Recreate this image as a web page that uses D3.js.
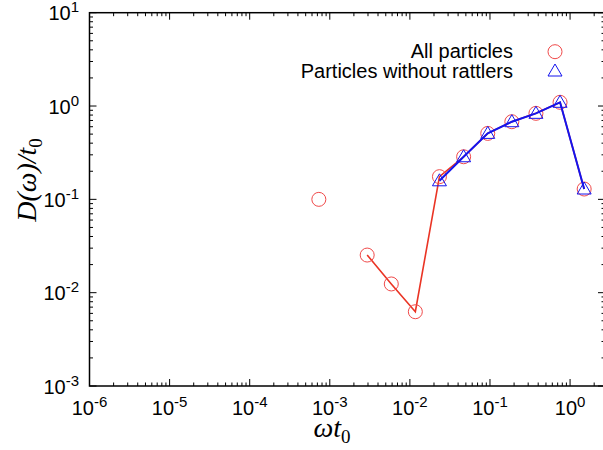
<!DOCTYPE html>
<html>
<head>
<style>
body { margin: 0; background: #fff; }
text { font-family: "Liberation Sans", Arial, Helvetica, sans-serif; }
.ttl { font-family: "Liberation Serif", "Times New Roman", serif; font-style: italic; }
</style>
</head>
<body>
<svg id="chart" width="603" height="450"></svg>
<script src="https://d3js.org/d3.v7.min.js"></script>
<script>
// data (omega*t0 doubles between points)
const allX = [0.00073, 0.00293, 0.00586, 0.0117, 0.0234, 0.0469, 0.0938, 0.1875, 0.375, 0.75, 1.5];
const allY = [0.100, 0.0253, 0.0124, 0.00625, 0.175, 0.286, 0.509, 0.679, 0.835, 1.096, 0.129];
const noRatX = [0.0234, 0.0469, 0.0938, 0.1875, 0.375, 0.75, 1.5];
const noRatY = [0.158, 0.286, 0.509, 0.679, 0.835, 1.096, 0.129];
const xDecades = [-6, -5, -4, -3, -2, -1, 0];
const yDecades = [-3, -2, -1, 0, 1];
const legendLabels = ["All particles", "Particles without rattlers"];

const svg = d3.select("#chart");
const pLeft = 89.5, pRight = 605, pTop = 12.7, pBottom = 386;

const x = d3.scaleLog().domain([1e-6, 2.73]).range([pLeft, pRight]);
const y = d3.scaleLog().domain([1e-3, 10]).range([pBottom, pTop]);

const redCirc = "#f04a4a", redLine = "#ea3424", blue = "#1414ee";

// ticks (mirrored on all four sides)
const minorMult = [2, 3, 4, 5, 6, 7, 8, 9];
function minorTicks(decs, maxV) {
    var out = [];
    decs.forEach(d => minorMult.forEach(m => {
        var v = m * Math.pow(10, d);
        if (v < maxV) out.push(v);
    }));
    return out;
}
const xMajor = xDecades.map(d => Math.pow(10, d));
const xMinor = minorTicks(xDecades, 2.73);
const yMajor = yDecades.map(d => Math.pow(10, d));
const yMinor = minorTicks(yDecades.slice(0, -1), 10);

const tickG = svg.append("g").attr("stroke", "#000").attr("stroke-width", 1);
function vTicks(vals, len) {
    vals.forEach(v => {
        tickG.append("line").attr("x1", x(v)).attr("x2", x(v)).attr("y1", pBottom).attr("y2", pBottom - len);
        tickG.append("line").attr("x1", x(v)).attr("x2", x(v)).attr("y1", pTop).attr("y2", pTop + len);
    });
}
function hTicks(vals, len) {
    vals.forEach(v => {
        tickG.append("line").attr("y1", y(v)).attr("y2", y(v)).attr("x1", pLeft).attr("x2", pLeft + len);
        tickG.append("line").attr("y1", y(v)).attr("y2", y(v)).attr("x1", pRight).attr("x2", pRight - len);
    });
}
vTicks(xMajor, 7); vTicks(xMinor, 3.5);
hTicks(yMajor, 7); hTicks(yMinor, 3.5);

// frame
svg.append("rect")
    .attr("x", pLeft).attr("y", pTop)
    .attr("width", pRight - pLeft).attr("height", pBottom - pTop)
    .attr("fill", "none").attr("stroke", "#000").attr("stroke-width", 1.5);

// tick labels
function powLabel(g, exp) {
    g.append("tspan").text("10");
    g.append("tspan").attr("dy", -8).attr("font-size", 15).text(exp);
}
xDecades.forEach(d => {
    var t = svg.append("text").attr("x", x(Math.pow(10, d))).attr("y", 415)
        .attr("text-anchor", "middle").attr("font-size", 20);
    powLabel(t, d);
});
yDecades.forEach(d => {
    var t = svg.append("text").attr("x", 79).attr("y", y(Math.pow(10, d)) + 7.5)
        .attr("text-anchor", "end").attr("font-size", 20);
    powLabel(t, d);
});

// axis titles
const xt = svg.append("text").attr("class", "ttl").attr("x", 332).attr("y", 437)
    .attr("text-anchor", "middle").attr("font-size", 28);
xt.append("tspan").text("ωt");
xt.append("tspan").attr("dy", 6).attr("font-size", 19).attr("font-style", "normal").text("0");

const yt = svg.append("text").attr("class", "ttl")
    .attr("transform", "translate(36,180) rotate(-90)")
    .attr("text-anchor", "middle").attr("font-size", 28);
yt.append("tspan").text("D(ω)/t");
yt.append("tspan").attr("dy", 6).attr("font-size", 19).attr("font-style", "normal").text("0");

// series: all particles
const allPts = allX.map((v, i) => [v, allY[i]]);
const ratPts = noRatX.map((v, i) => [v, noRatY[i]]);
const line = d3.line().x(d => x(d[0])).y(d => y(d[1]));

svg.append("path").datum(allPts.slice(1))
    .attr("d", line).attr("fill", "none")
    .attr("stroke", redLine).attr("stroke-width", 1.6);

svg.selectAll("circle.all").data(allPts).enter()
    .append("circle").attr("class", "all")
    .attr("cx", d => x(d[0])).attr("cy", d => y(d[1])).attr("r", 7)
    .attr("fill", "none").attr("stroke", redCirc).attr("stroke-width", 1);

// series: without rattlers
const tri = (cx, cy) => `M${cx},${cy - 7}L${cx + 7},${cy + 5}L${cx - 7},${cy + 5}Z`;

svg.append("path").datum(ratPts)
    .attr("d", line).attr("fill", "none")
    .attr("stroke", blue).attr("stroke-width", 2);

svg.selectAll("path.tri").data(ratPts).enter()
    .append("path").attr("class", "tri")
    .attr("d", d => tri(x(d[0]), y(d[1])))
    .attr("fill", "none").attr("stroke", blue).attr("stroke-width", 1);

// legend
svg.append("text").attr("x", 513).attr("y", 58.3).attr("text-anchor", "end")
    .attr("font-size", 20).text(legendLabels[0]);
svg.append("text").attr("x", 513).attr("y", 78.3).attr("text-anchor", "end")
    .attr("font-size", 20).text(legendLabels[1]);
svg.append("circle").attr("cx", 555).attr("cy", 51.7).attr("r", 7)
    .attr("fill", "none").attr("stroke", redCirc).attr("stroke-width", 1);
svg.append("path").attr("d", tri(555, 71))
    .attr("fill", "none").attr("stroke", blue).attr("stroke-width", 1);
</script>
</body>
</html>
